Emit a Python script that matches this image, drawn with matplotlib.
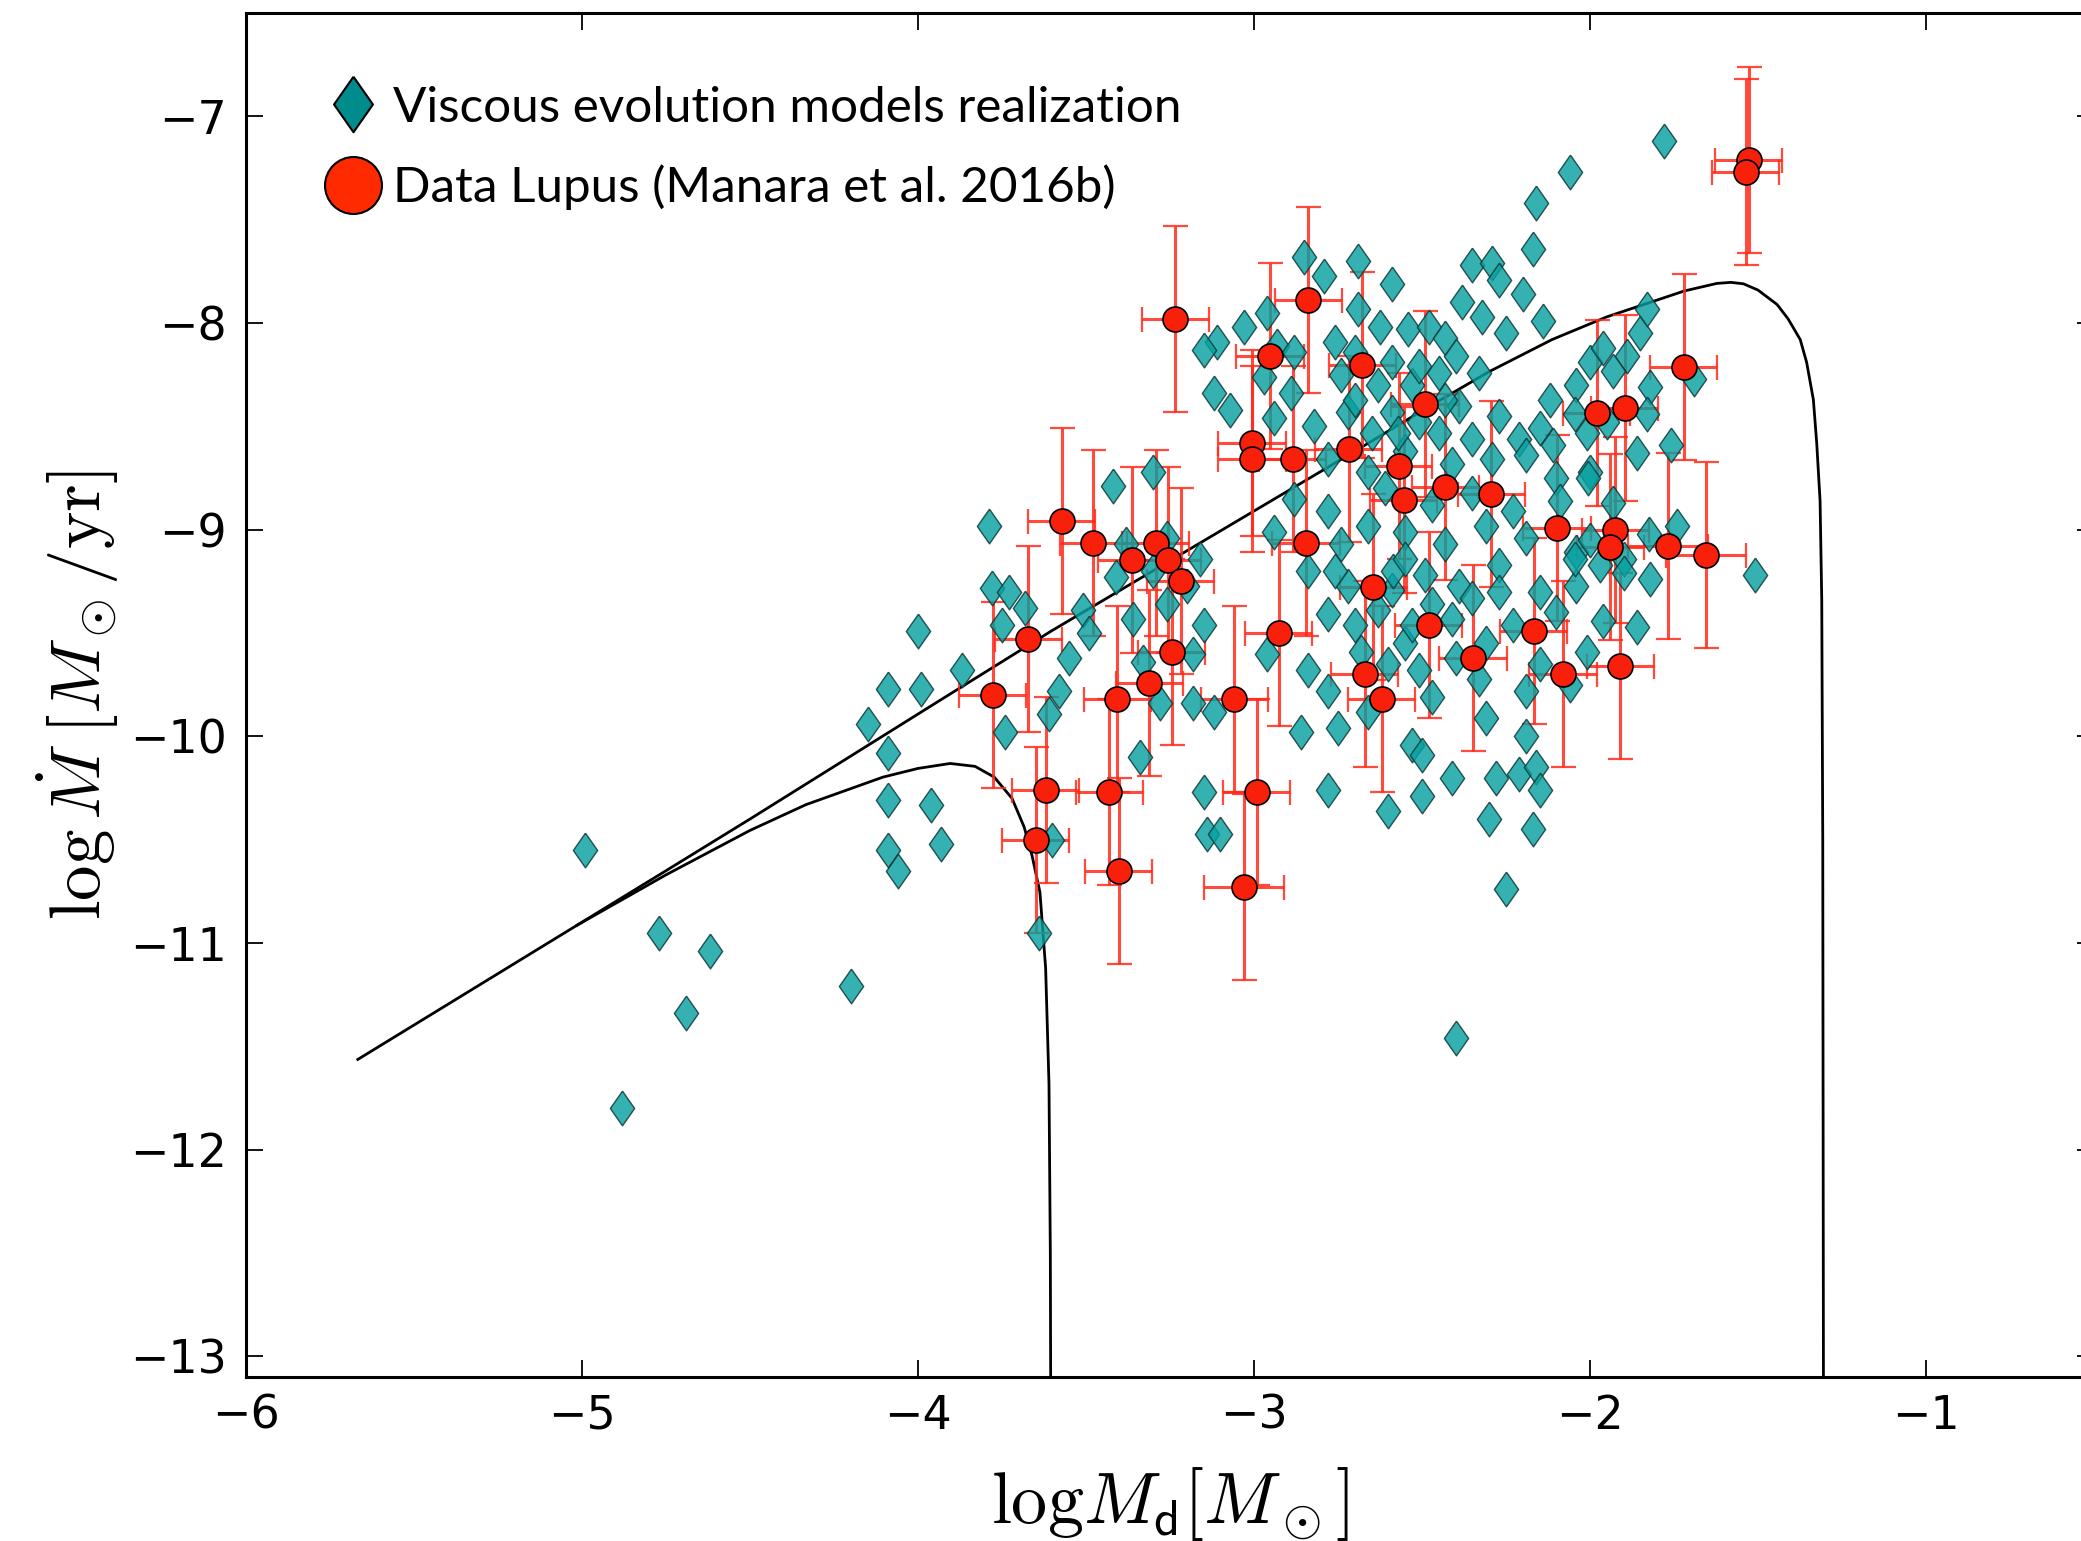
import numpy as np
import matplotlib.pyplot as plt
from matplotlib.lines import Line2D

plt.rcParams['mathtext.fontset'] = 'cm'

# viscous evolution model realization (log Md, log Mdot)
mod_x = [-4.99, -4.77, -4.62, -4.69, -4.88, -4.20, -4.15, -4.09, -4.09, -4.00,
         -3.99, -4.09, -4.09, -4.06, -3.96, -3.93, -3.87, -3.79, -3.78, -3.73,
         -3.75, -3.74, -3.68, -3.64, -3.61, -3.60, -3.58, -3.55, -3.51, -3.49,
         -3.42, -3.41, -3.38, -3.36, -3.33, -3.30, -3.28, -3.26, -3.34, -3.18,
         -3.18, -3.12, -3.15, -3.16, -3.15, -3.14, -3.10, -3.11, -3.15, -3.12,
         -3.07, -3.03, -2.96, -2.96, -2.94, -2.94, -2.93, -2.97, -2.89, -2.88,
         -2.88, -2.86, -2.85, -2.84, -2.84, -2.82, -2.79, -2.78, -2.78, -2.78,
         -2.78, -2.78, -2.76, -2.75, -2.74, -2.74, -2.72, -2.72, -2.70, -2.69,
         -2.69, -2.68, -2.66, -2.66, -2.66, -2.65, -2.63, -2.63, -2.61, -2.60,
         -2.59, -2.59, -2.59, -2.59, -2.55, -2.55, -2.55, -2.54, -2.53, -2.53,
         -2.53, -2.51, -2.50, -2.50, -2.49, -2.48, -2.47, -2.47, -2.45, -2.45,
         -2.43, -2.43, -2.41, -2.41, -2.41, -2.40, -2.40, -2.40, -2.39, -2.39,
         -2.38, -2.35, -2.35, -2.33, -2.32, -2.31, -2.31, -2.31, -2.30, -2.29,
         -2.29, -2.28, -2.27, -2.27, -2.27, -2.25, -2.25, -2.23, -2.23, -2.21,
         -2.21, -2.20, -2.19, -2.19, -2.19, -2.19, -2.17, -2.17, -2.16, -2.16,
         -2.15, -2.15, -2.15, -2.15, -2.14, -2.12, -2.10, -2.10, -2.06, -2.06,
         -2.04, -2.04, -2.04, -2.01, -2.01, -2.00, -2.00, -1.96, -1.96, -1.93,
         -1.90, -1.90, -1.89, -1.86, -1.86, -1.85, -1.83, -1.82, -1.82, -1.78,
         -1.76, -1.74, -1.69, -1.51, -3.30, -3.20, -3.26, -1.93, -1.83, -2.045,
         -1.95, -2.11, -2.006, -2.09, -1.825, -2.00, -1.97, -2.045,
         -2.585, -2.47, -2.35, -2.27, -2.60, -2.51, -2.33, -2.76, -2.55, -2.70,
         -2.70, -2.625, -2.51, -2.43, -2.57, -2.35]
mod_y = [-10.55, -10.95, -11.04, -11.34, -11.80, -11.21, -9.94, -9.77, -10.08, -9.49,
         -9.77, -10.31, -10.55, -10.65, -10.33, -10.52, -9.68, -8.98, -9.28, -9.30,
         -9.46, -9.98, -9.38, -10.95, -9.89, -10.50, -9.78, -9.62, -9.39, -9.50,
         -8.79, -9.23, -9.07, -9.43, -9.64, -8.72, -9.84, -9.36, -10.10, -9.60,
         -9.84, -9.88, -9.46, -9.14, -10.27, -10.47, -10.47, -8.09, -8.13, -8.34,
         -8.42, -8.02, -7.95, -9.60, -8.46, -9.01, -8.11, -8.26, -8.34, -8.14,
         -8.85, -9.98, -7.68, -9.20, -9.68, -8.50, -7.77, -8.66, -8.91, -9.41,
         -9.78, -10.26, -8.09, -9.96, -8.25, -9.07, -8.43, -9.27, -8.37, -7.70,
         -7.93, -9.59, -8.72, -8.98, -9.88, -8.53, -8.30, -9.39, -8.80, -10.36,
         -7.81, -9.29, -8.19, -8.43, -8.62, -9.01, -9.55, -8.03, -8.30, -9.46,
         -10.04, -8.48, -10.09, -10.29, -9.22, -8.02, -8.88, -9.81, -8.24, -8.53,
         -8.07, -9.07, -8.68, -9.43, -10.20, -9.62, -11.46, -8.16, -8.40, -9.27,
         -7.90, -7.72, -8.82, -8.24, -7.97, -8.98, -9.55, -9.91, -10.40, -7.71,
         -8.66, -10.20, -7.79, -8.45, -9.17, -8.05, -10.74, -8.91, -9.46, -8.56,
         -10.18, -7.86, -8.64, -9.04, -9.78, -10.00, -7.64, -10.45, -10.15, -7.42,
         -8.51, -9.30, -9.65, -10.26, -7.99, -8.37, -9.40, -8.75, -7.27, -9.75,
         -8.30, -9.11, -9.27, -8.53, -9.59, -8.19, -8.72, -8.12, -9.44, -8.87,
         -9.14, -9.21, -8.16, -8.63, -9.47, -8.05, -7.93, -9.24, -8.31, -7.12,
         -8.59, -8.98, -8.27, -9.22, -9.20, -9.27, -9.04, -8.23, -8.44, -8.44,
         -8.48, -8.59, -8.75, -8.86, -9.02, -9.05, -9.17, -9.14,
         -9.20, -9.36, -9.33, -9.30, -9.65, -9.68, -9.72, -9.20, -9.14, -9.46,
         -8.14, -8.02, -8.21, -8.37, -8.53, -8.56]

# Lupus data (Manara et al. 2016b)
lup_x = [-3.234, -2.838, -2.952, -2.678, -2.491, -3.006, -3.006, -2.885, -2.718, -2.569,
         -2.430, -2.554, -2.294, -3.572, -3.478, -3.364, -3.292, -3.257, -3.218, -2.845,
         -2.645, -2.480, -2.926, -2.167, -2.098, -3.245, -2.348, -1.527, -1.536, -1.721,
         -1.980, -1.897, -1.924, -1.939, -1.768, -1.654, -3.671, -3.777, -3.407, -3.312,
         -3.620, -3.650, -3.430, -3.403, -3.059, -2.992, -3.030, -2.670, -2.620, -2.080,
         -1.910]
lup_y = [-7.978, -7.886, -8.159, -8.203, -8.393, -8.579, -8.659, -8.659, -8.611, -8.692,
         -8.792, -8.857, -8.828, -8.960, -9.064, -9.145, -9.064, -9.146, -9.250, -9.064,
         -9.278, -9.459, -9.500, -9.490, -8.990, -9.590, -9.620, -7.210, -7.270, -8.212,
         -8.437, -8.413, -9.000, -9.084, -9.080, -9.120, -9.530, -9.800, -9.820, -9.740,
         -10.260, -10.500, -10.270, -10.650, -9.820, -10.270, -10.730, -9.700, -9.820, -9.700,
         -9.660]
lup_xerr = [0.10, 0.10, 0.10, 0.10, 0.10, 0.10, 0.10, 0.10, 0.10, 0.10,
            0.10, 0.10, 0.10, 0.10, 0.10, 0.10, 0.10, 0.10, 0.10, 0.10,
            0.10, 0.10, 0.10, 0.10, 0.10, 0.10, 0.10, 0.10, 0.10, 0.10,
            0.10, 0.10, 0.10, 0.10, 0.12, 0.12, 0.10, 0.10, 0.10, 0.10,
            0.10, 0.10, 0.10, 0.10, 0.10, 0.10, 0.12, 0.10, 0.10, 0.10,
            0.10]
lup_yerr = [0.45] * 51

# model isochrones
iso1_x = [-5.667, -5.015, -4.75, -4.5, -3.935, -3.603, -3.26, -2.72, -2.485, -2.3,
          -2.113, -1.95, -1.821, -1.72, -1.622, -1.58, -1.543, -1.50, -1.443, -1.41,
          -1.374, -1.355, -1.335, -1.325, -1.315, -1.31, -1.307, -1.305]
iso1_y = [-11.563, -10.914, -10.65, -10.40, -9.826, -9.49, -9.16, -8.64, -8.41, -8.235,
          -8.08, -7.97, -7.90, -7.845, -7.808, -7.803, -7.81, -7.84, -7.91, -7.98,
          -8.08, -8.19, -8.37, -8.58, -8.86, -9.34, -10.5, -13.1]
iso2_x = [-5.015, -4.75, -4.5, -4.333, -4.104, -4.0, -3.904, -3.83, -3.773, -3.72,
          -3.684, -3.66, -3.637, -3.62, -3.61, -3.606, -3.605]
iso2_y = [-10.914, -10.67, -10.455, -10.33, -10.197, -10.155, -10.131, -10.145, -10.197, -10.30,
          -10.438, -10.58, -10.753, -11.12, -11.68, -12.5, -13.1]

diamond = [(0, 1), (0.7, 0), (0, -1), (-0.7, 0), (0, 1)]

fig = plt.figure(figsize=(20.81, 15.41), dpi=100)
ax = fig.add_axes([0.1182, 0.1064, 0.888, 0.8851])

ax.plot(iso1_x, iso1_y, color='k', lw=2.0, zorder=1)
ax.plot(iso2_x, iso2_y, color='k', lw=2.0, zorder=1)

ax.errorbar(lup_x, lup_y, xerr=lup_xerr, yerr=lup_yerr, fmt='none',
            ecolor='#ff2a1a', alpha=0.85, elinewidth=2.2, capsize=9,
            capthick=1.6, zorder=2)
ax.plot(mod_x, mod_y, ls='none', marker=diamond, ms=25, mfc='#08a0a0',
        mec='#0b3434', mew=1.0, alpha=0.82, zorder=3)
ax.plot(lup_x, lup_y, ls='none', marker='o', ms=18, mfc='#f8200a',
        mec='k', mew=1.2, zorder=4)

ax.set_xlim(-6, -0.5)
ax.set_ylim(-13.1, -6.5)
ax.set_xticks([-6, -5, -4, -3, -2, -1])
ax.set_yticks([-13, -12, -11, -10, -9, -8, -7])
for s in ax.spines.values():
    s.set_linewidth(2.2)
ax.tick_params(direction='in', length=12, width=1.3, labelsize=33,
               top=True, right=True)
ax.tick_params(axis='x', pad=12)
ax.tick_params(axis='y', pad=14)

ax.set_xlabel(r'$\mathrm{log}M_{\mathsf{d}}[M_\odot]$', fontsize=52)
ax.xaxis.label.set_va('baseline')
ax.xaxis.set_label_coords(0.5, -0.107)
ax.set_ylabel(r'$\log\dot{M}\;[M_\odot/\mathrm{yr}]$', fontsize=51)
ax.yaxis.label.set_va('center')
ax.yaxis.set_label_coords(-0.091, 0.5)

handles = [Line2D([], [], ls='none', marker=diamond, ms=40, mfc='#008c8c',
                  mec='k', mew=1.5),
           Line2D([], [], ls='none', marker='o', ms=41, mfc='#ff2a00',
                  mec='k', mew=1.5)]
labels = ['Viscous evolution models realization',
          'Data Lupus (Manara et al. 2016b)']
ax.legend(handles, labels, loc='upper left', bbox_to_anchor=(0.0441, 0.9467),
          frameon=False, borderaxespad=0, borderpad=0, handlelength=1.03,
          handletextpad=0.3, labelspacing=0.7,
          prop={'family': ['Lato', 'DejaVu Sans'], 'size': 35.6})

fig.savefig('out.png', dpi=100)
